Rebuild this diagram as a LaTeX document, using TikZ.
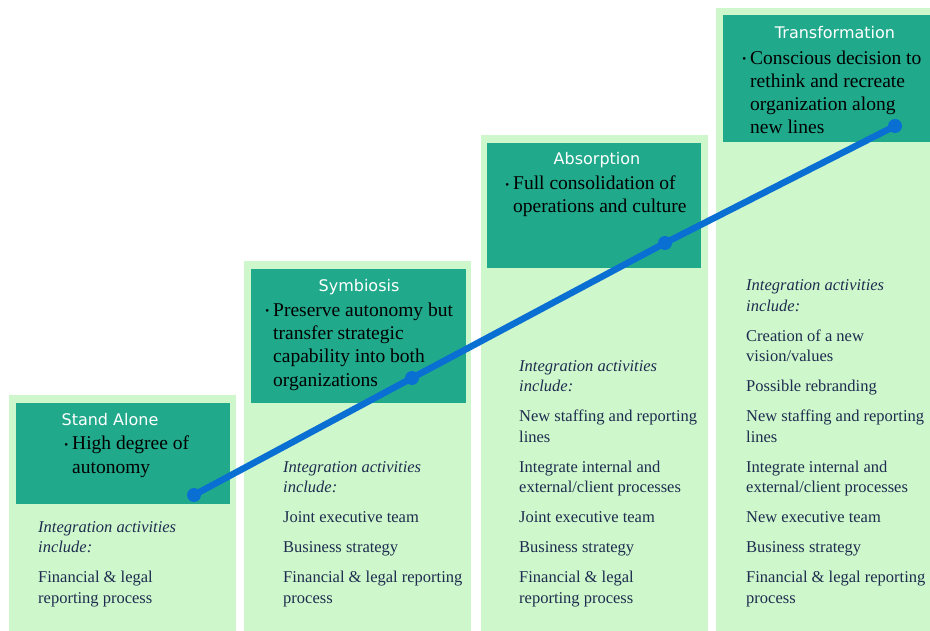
\documentclass[tikz,border=0pt]{standalone}
\usepackage{fontspec}
\setmainfont{Liberation Serif}
\newfontfamily\headfont{DejaVu Sans}
\definecolor{paleleaf}{HTML}{CFF7CC}
\definecolor{tealbox}{HTML}{21A98B}
\definecolor{inkblue}{HTML}{1E2D4F}
\definecolor{lineblue}{HTML}{0A6FD2}
\newcommand{\pt}{\llap{\raisebox{1.5pt}{\fontsize{11}{11}\selectfont\textbullet}\hspace{4pt}}}
\begin{document}
\begin{tikzpicture}[x=1pt,y=-1pt,
  colbg/.style={fill=paleleaf,draw=none,anchor=north west,inner sep=0pt},
  phase/.style={fill=tealbox,draw=none,anchor=north west,inner sep=0pt},
  head/.style={font=\headfont\fontsize{16}{18}\selectfont,text=white,anchor=base,inner sep=0pt},
  point/.style={font=\fontsize{19.5}{23.3}\selectfont,align=left,anchor=base west,inner sep=0pt},
  acts/.style={font=\fontsize{16.5}{20.5}\selectfont,text=inkblue,align=left,anchor=base west,inner sep=0pt},
  dot/.style={circle,fill=lineblue,inner sep=0pt,minimum size=14pt}]
  \useasboundingbox (0,0) rectangle (930,631);
  % columns
  \node[colbg,minimum width=227,minimum height=236] (bg1) at (9,395) {};
  \node[colbg,minimum width=227,minimum height=370] (bg2) at (244,261) {};
  \node[colbg,minimum width=227,minimum height=496] (bg3) at (481,135) {};
  \node[colbg,minimum width=214,minimum height=623] (bg4) at (716,8) {};
  % phase boxes
  \node[phase,minimum width=214,minimum height=101] (ph1) at (16,403) {};
  \node[phase,minimum width=215,minimum height=134] (ph2) at (251,269) {};
  \node[phase,minimum width=214,minimum height=125] (ph3) at (487,143) {};
  \node[phase,minimum width=207,minimum height=127] (ph4) at (723,15) {};
  % titles
  \node[head] (t1) at (110,425) {Stand Alone};
  \node[head] (t2) at (359,292) {Symbiosis};
  \node[head] (t3) at (597,165) {Absorption};
  \node[head] (t4) at (835,39) {Transformation};
  % bullet points (placed by their last line)
  \node[point] (p1) at (72,473) {\pt High degree of\\autonomy};
  \node[point] (p2) at (273,386) {\pt Preserve autonomy but\\transfer strategic\\capability into both\\organizations};
  \node[point] (p3) at (513,213) {\pt Full consolidation of\\operations and culture};
  \node[point] (p4) at (750,134) {\pt Conscious decision to\\rethink and recreate\\organization along\\new lines};
  % activities
  \node[acts] (a1) at (38,603) {\textit{Integration activities}\\\textit{include:}\\[9.5pt]
    Financial \& legal\\reporting process};
  \node[acts] (a2) at (283,603) {\textit{Integration activities}\\\textit{include:}\\[9.5pt]
    Joint executive team\\[9.5pt]Business strategy\\[9.5pt]Financial \& legal reporting\\process};
  \node[acts] (a3) at (519,603) {\textit{Integration activities}\\\textit{include:}\\[9.5pt]
    New staffing and reporting\\lines\\[9.5pt]Integrate internal and\\external/client processes\\[9.5pt]
    Joint executive team\\[9.5pt]Business strategy\\[9.5pt]Financial \& legal\\reporting process};
  \node[acts] (a4) at (746,603) {\textit{Integration activities}\\\textit{include:}\\[9.5pt]
    Creation of a new\\vision/values\\[9.5pt]Possible rebranding\\[9.5pt]
    New staffing and reporting\\lines\\[9.5pt]Integrate internal and\\external/client processes\\[9.5pt]
    New executive team\\[9.5pt]Business strategy\\[9.5pt]Financial \& legal reporting\\process};
  % progression line
  \node[dot] (d1) at (194,495) {};
  \node[dot] (d2) at (412,378) {};
  \node[dot] (d3) at (665,243) {};
  \node[dot] (d4) at (895,126) {};
  \draw[lineblue,line width=6.5pt] (d1.center) -- (d2.center) -- (d3.center) -- (d4.center);
\end{tikzpicture}
\end{document}
